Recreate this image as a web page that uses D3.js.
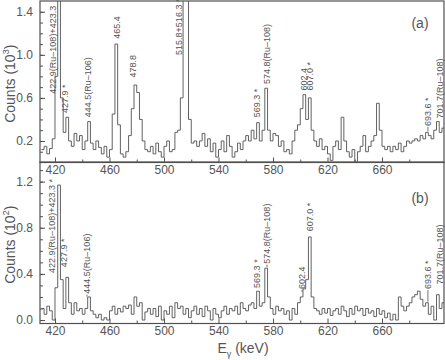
<!DOCTYPE html>
<html>
<head>
<meta charset="utf-8">
<script src="https://cdn.jsdelivr.net/npm/d3@7"></script>
<style>
  body { margin: 0; background: #fff; }
  text { font-family: "Liberation Sans", Arial, sans-serif; fill: #555; }
</style>
</head>
<body>
<div id="chart"></div>
<script>
// bin edges: 2 keV bins starting at 410 keV
var binStart = 410, binWidth = 2;

// panel (a) counts, units of 10^3
var countsA = [
  0.12, 0.15, 0.08, 0.13, 0.22, 0.80, 2.50, 0.60, 0.28, 0.42,
  0.20, 0.15, 0.27, 0.20, 0.25, 0.12, 0.20, 0.38, 0.18, 0.12,
  0.20, 0.14, 0.08, 0.15, 0.05, 0.12, 0.45, 1.10, 0.35, 0.08,
  0.05, 0.10, 0.25, 0.50, 0.72, 0.65, 0.40, 0.20, 0.12, 0.10,
  0.15, 0.08, 0.18, 0.10, 0.05, 0.15, 0.20, 0.10, 0.12, 0.28,
  0.30, 0.60, 2.50, 2.00, 0.40, 0.18, 0.20, 0.15, 0.20, 0.27,
  0.15, 0.22, 0.10, 0.18, 0.05, 0.12, 0.20, 0.10, 0.25, 0.15,
  0.05, 0.10, 0.18, 0.12, 0.20, 0.25, 0.20, 0.30, 0.22, 0.37,
  0.20, 0.30, 0.69, 0.30, 0.20, 0.27, 0.25, 0.15, 0.20, 0.10,
  0.12, 0.08, 0.20, 0.30, 0.35, 0.50, 0.63, 0.40, 0.60, 0.30,
  0.20, 0.15, 0.22, 0.12, 0.15, 0.08, 0.02, 0.15, 0.20, 0.12,
  0.42, 0.20, 0.10, 0.05, 0.12, 0.00, 0.10, 0.15, 0.25, 0.10,
  0.15, 0.20, 0.25, 0.55, 0.30, 0.15, 0.12, 0.15, 0.10, 0.15,
  0.12, 0.18, 0.10, 0.15, 0.20, 0.18, 0.20, 0.22, 0.20, 0.25,
  0.22, 0.28, 0.25, 0.22, 0.30, 0.38, 0.28, 0.32
];

// panel (b) counts, units of 10^2
var countsB = [
  0.10, 0.05, 0.12, 0.08, 0.00, 0.28, 1.17, 0.35, 0.10, 0.37,
  0.15, 0.05, 0.15, 0.08, 0.10, 0.05, 0.10, 0.20, 0.08, 0.05,
  0.02, 0.05, 0.00, 0.02, 0.00, 0.08, 0.12, 0.05, 0.10, 0.07,
  0.12, 0.10, 0.13, 0.05, 0.20, 0.12, 0.15, 0.00, 0.07, 0.10,
  0.05, 0.10, 0.03, 0.12, 0.00, 0.08, 0.05, 0.12, 0.02, 0.15,
  0.10, 0.12, 0.05, 0.10, 0.02, 0.08, 0.12, 0.05, 0.10, 0.03,
  0.12, 0.08, 0.00, 0.10, 0.05, 0.02, 0.08, 0.12, 0.05, 0.10,
  0.08, 0.12, 0.05, 0.15, 0.10, 0.08, 0.13, 0.15, 0.10, 0.25,
  0.12, 0.15, 0.45, 0.20, 0.10, 0.05, 0.12, 0.08, 0.10, 0.05,
  0.08, 0.00, 0.10, 0.05, 0.15, 0.20, 0.27, 0.35, 0.72, 0.20,
  0.10, 0.08, 0.05, 0.10, 0.06, 0.10, 0.04, 0.08, 0.10, 0.05,
  0.12, 0.08, 0.03, 0.10, 0.05, 0.12, 0.08, 0.10, 0.04, 0.10,
  0.06, 0.08, 0.03, 0.10, 0.05, 0.08, 0.02, 0.06, 0.00, 0.05,
  0.00, 0.20, 0.12, 0.08, 0.12, 0.15, 0.20, 0.22, 0.25, 0.18,
  0.12, 0.15, 0.05, 0.12, 0.00, 0.22, 0.10, 0.15
];

// peak labels: energy where the label sits, text, level of the label foot, leader or not
var labelsAE = [418.5, 427.3, 444.2, 465.5, 477.3, 511.2, 568.3, 575.6, 602.4, 607.2, 693.7, 702.5];
var labelsAText = ["422.9(Ru\u2013108)+423.3", "427.9 *", "444.5(Ru\u2013106)", "465.4", "478.8",
  "515.8+516.3 *", "569.3 *", "574.8(Ru\u2013108)", "602.4", "607.0 *", "693.6 *", "701.7(Ru\u2013108)"];
var labelsAV = [0.63, 0.45, 0.41, 1.14, 0.78, 0.99, 0.41, 0.72, 0.66, 0.66, 0.33, 0.40];
var labelsALead = [0, 0, 0, 0, 0, 0, 0, 0, 0, 0, 1, 0];

var labelsBE = [417.8, 426.6, 443.5, 568.3, 575.6, 601.3, 607.2, 693.7, 702.5];
var labelsBText = ["422.9(Ru\u2013108)+423.3 *", "427.9 *", "444.5(Ru\u2013106)", "569.3 *",
  "574.8(Ru\u2013108)", "602.4", "607.0 *", "693.6 *", "701.7(Ru\u2013108)"];
var labelsBV = [0.40, 0.45, 0.22, 0.27, 0.48, 0.26, 0.76, 0.26, 0.30];
var labelsBLead = [0, 0, 1, 0, 1, 1, 0, 1, 0];

var xTicks = [420, 460, 500, 540, 580, 620, 660];
var yTicksA = [0.2, 0.6, 1.0, 1.4];
var yTicksB = [0.0, 0.4, 0.8, 1.2];

var W = 445, H = 360;
var left = 40, right = 444;

var svg = d3.select("#chart").append("svg")
    .attr("width", W)
    .attr("height", H);

var x = d3.scaleLinear().domain([409, 705.5]).range([left, right]);

var panels = [
  { name: "a", counts: countsA, y: d3.scaleLinear().domain([0, 1.5]).range([162.5, 1]),
    ticks: yTicksA, minor: d3.range(0.1, 1.45, 0.1), exp: "3", tagY: 28,
    lE: labelsAE, lT: labelsAText, lV: labelsAV, lL: labelsALead, top: 1, bottom: 162.5 },
  { name: "b", counts: countsB, y: d3.scaleLinear().domain([-0.03, 1.37]).range([323.5, 162]),
    ticks: yTicksB, minor: d3.range(0, 1.35, 0.1), exp: "2", tagY: 203,
    lE: labelsBE, lT: labelsBText, lV: labelsBV, lL: labelsBLead, top: 162, bottom: 323.5 }
];

var ink = "#505050";

panels.forEach(function(p) {
  var y = p.y;

  // clip so the tall peaks run out of the top
  svg.append("clipPath").attr("id", "clip" + p.name)
    .append("rect")
      .attr("x", left).attr("y", p.top)
      .attr("width", right - left).attr("height", p.bottom - p.top);

  // histogram as steps over the bin edges
  var pts = p.counts.map(function(v, i) { return [binStart + i * binWidth, v]; });
  pts.push([binStart + p.counts.length * binWidth, p.counts[p.counts.length - 1]]);

  var line = d3.line()
      .x(function(d) { return x(d[0]); })
      .y(function(d) { return y(d[1]); })
      .curve(d3.curveStepAfter);

  svg.append("path")
      .datum(pts)
      .attr("clip-path", "url(#clip" + p.name + ")")
      .attr("d", line)
      .attr("fill", "none")
      .attr("stroke", ink)
      .attr("stroke-width", 0.9);

  // frame
  svg.append("rect")
      .attr("x", left).attr("y", p.top)
      .attr("width", right - left).attr("height", p.bottom - p.top)
      .attr("fill", "none")
      .attr("stroke", ink)
      .attr("stroke-width", 1.2);

  // left axis, ticks pointing inside
  var yAxis = d3.axisLeft(y).tickValues(p.ticks).tickSize(-5).tickPadding(7)
      .tickFormat(d3.format(".1f"));
  var gy = svg.append("g").attr("transform", "translate(" + left + ",0)").call(yAxis);
  var yMinor = d3.axisLeft(y).tickValues(p.minor).tickSize(-3).tickFormat("");
  var gym = svg.append("g").attr("transform", "translate(" + left + ",0)").call(yMinor);

  // bottom axis, ticks pointing inside
  var xAxis = d3.axisBottom(x).tickValues(xTicks).tickSize(-5).tickPadding(3)
      .tickFormat(d3.format("d"));
  var gx = svg.append("g").attr("transform", "translate(0," + p.bottom + ")").call(xAxis);
  var xMinor = d3.axisBottom(x).tickValues(d3.range(440, 705, 40)).tickSize(-3).tickFormat("");
  var gxm = svg.append("g").attr("transform", "translate(0," + p.bottom + ")").call(xMinor);

  [gy, gym, gx, gxm].forEach(function(g) {
    g.select(".domain").remove();
    g.selectAll("line").attr("stroke", ink);
    g.selectAll("text").attr("font-size", 12).attr("fill", "#555")
      .style("font-family", "'Liberation Sans', Arial, sans-serif");
  });

  // y title
  var cy = (p.top + p.bottom) / 2;
  var t = svg.append("text")
      .attr("transform", "translate(15," + (cy + 2) + ") rotate(-90)")
      .attr("text-anchor", "middle")
      .attr("font-size", 14);
  t.append("tspan").text("Counts (10");
  t.append("tspan").text(p.exp).attr("font-size", 9).attr("dy", -6);
  t.append("tspan").text(")").attr("dy", 6);

  // panel tag
  svg.append("text")
      .attr("x", 420).attr("y", p.tagY)
      .attr("text-anchor", "middle")
      .attr("font-size", 14)
      .text("(" + p.name + ")");

  // peak labels, some with a short leader down to the peak
  p.lE.forEach(function(e, i) {
    var lx = x(e), ly = y(p.lV[i]);
    svg.append("text")
        .attr("transform", "translate(" + lx + "," + (ly - 1) + ") rotate(-90)")
        .attr("dy", "0.35em")
        .attr("font-size", 9)
        .text(p.lT[i]);
    if (!p.lL[i]) return;
    var bin = Math.floor((e - binStart) / binWidth);
    var peak = d3.max(p.counts.slice(Math.max(0, bin - 1), bin + 2));
    svg.append("line")
        .attr("x1", lx).attr("x2", lx)
        .attr("y1", ly).attr("y2", Math.max(ly + 2, y(peak) - 1))
        .attr("stroke", ink).attr("stroke-width", 0.8);
  });
});

// x title
var xt = svg.append("text")
    .attr("x", 243).attr("y", 353)
    .attr("text-anchor", "middle")
    .attr("font-size", 14);
xt.append("tspan").text("E");
xt.append("tspan").text("\u03b3").attr("font-size", 9).attr("dy", 4);
xt.append("tspan").text("  (keV)").attr("dy", -4);
</script>
</body>
</html>
